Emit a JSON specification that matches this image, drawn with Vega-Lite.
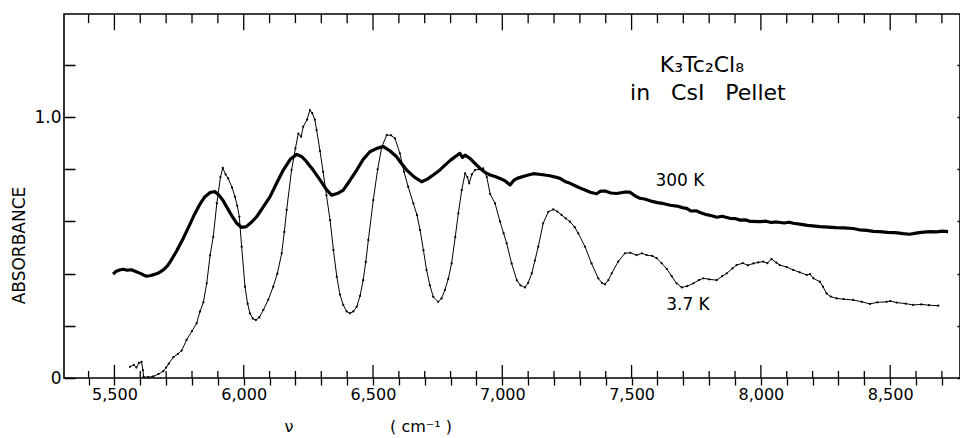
{
  "$schema": "https://vega.github.io/schema/vega-lite/v6.json",
  "width": 896,
  "height": 364,
  "autosize": {"type": "none"},
  "padding": {"left": 64, "top": 14, "right": 0, "bottom": 60},
  "background": "white",
  "config": {
    "font": "DejaVu Sans",
    "view": {"stroke": "black", "strokeWidth": 1.6},
    "axis": {"labelColor": "black", "titleColor": "black", "titleFontWeight": "normal"}
  },
  "resolve": {"axis": {"x": "independent"}},
  "datasets": {
    "spectra": [
      {"series": "300 K", "wavenumber": 5495, "absorbance": 0.398},
      {"series": "300 K", "wavenumber": 5505, "absorbance": 0.408},
      {"series": "300 K", "wavenumber": 5520, "absorbance": 0.414},
      {"series": "300 K", "wavenumber": 5534, "absorbance": 0.417},
      {"series": "300 K", "wavenumber": 5550, "absorbance": 0.413},
      {"series": "300 K", "wavenumber": 5565, "absorbance": 0.415},
      {"series": "300 K", "wavenumber": 5580, "absorbance": 0.409},
      {"series": "300 K", "wavenumber": 5600, "absorbance": 0.401},
      {"series": "300 K", "wavenumber": 5615, "absorbance": 0.394},
      {"series": "300 K", "wavenumber": 5625, "absorbance": 0.390},
      {"series": "300 K", "wavenumber": 5640, "absorbance": 0.393},
      {"series": "300 K", "wavenumber": 5655, "absorbance": 0.397},
      {"series": "300 K", "wavenumber": 5670, "absorbance": 0.402},
      {"series": "300 K", "wavenumber": 5689, "absorbance": 0.414},
      {"series": "300 K", "wavenumber": 5705, "absorbance": 0.430},
      {"series": "300 K", "wavenumber": 5720, "absorbance": 0.452},
      {"series": "300 K", "wavenumber": 5740, "absorbance": 0.486},
      {"series": "300 K", "wavenumber": 5766, "absorbance": 0.535},
      {"series": "300 K", "wavenumber": 5790, "absorbance": 0.585},
      {"series": "300 K", "wavenumber": 5810, "absorbance": 0.628},
      {"series": "300 K", "wavenumber": 5830, "absorbance": 0.665},
      {"series": "300 K", "wavenumber": 5850, "absorbance": 0.695},
      {"series": "300 K", "wavenumber": 5870, "absorbance": 0.711},
      {"series": "300 K", "wavenumber": 5889, "absorbance": 0.714},
      {"series": "300 K", "wavenumber": 5905, "absorbance": 0.700},
      {"series": "300 K", "wavenumber": 5920, "absorbance": 0.680},
      {"series": "300 K", "wavenumber": 5934, "absorbance": 0.656},
      {"series": "300 K", "wavenumber": 5955, "absorbance": 0.620},
      {"series": "300 K", "wavenumber": 5973, "absorbance": 0.593},
      {"series": "300 K", "wavenumber": 5992, "absorbance": 0.577},
      {"series": "300 K", "wavenumber": 6010, "absorbance": 0.580},
      {"series": "300 K", "wavenumber": 6030, "absorbance": 0.597},
      {"series": "300 K", "wavenumber": 6050, "absorbance": 0.618},
      {"series": "300 K", "wavenumber": 6075, "absorbance": 0.655},
      {"series": "300 K", "wavenumber": 6102, "absorbance": 0.695},
      {"series": "300 K", "wavenumber": 6128, "absorbance": 0.748},
      {"series": "300 K", "wavenumber": 6153, "absorbance": 0.797},
      {"series": "300 K", "wavenumber": 6180, "absorbance": 0.838},
      {"series": "300 K", "wavenumber": 6205, "absorbance": 0.857},
      {"series": "300 K", "wavenumber": 6225, "absorbance": 0.848},
      {"series": "300 K", "wavenumber": 6243, "absorbance": 0.829},
      {"series": "300 K", "wavenumber": 6270, "absorbance": 0.795},
      {"series": "300 K", "wavenumber": 6295, "absorbance": 0.759},
      {"series": "300 K", "wavenumber": 6320, "absorbance": 0.722},
      {"series": "300 K", "wavenumber": 6340, "absorbance": 0.701},
      {"series": "300 K", "wavenumber": 6362, "absorbance": 0.707},
      {"series": "300 K", "wavenumber": 6385, "absorbance": 0.720},
      {"series": "300 K", "wavenumber": 6410, "absorbance": 0.756},
      {"series": "300 K", "wavenumber": 6437, "absorbance": 0.797},
      {"series": "300 K", "wavenumber": 6462, "absorbance": 0.838},
      {"series": "300 K", "wavenumber": 6488, "absorbance": 0.867},
      {"series": "300 K", "wavenumber": 6515, "absorbance": 0.880},
      {"series": "300 K", "wavenumber": 6540, "absorbance": 0.887},
      {"series": "300 K", "wavenumber": 6565, "absorbance": 0.871},
      {"series": "300 K", "wavenumber": 6591, "absorbance": 0.848},
      {"series": "300 K", "wavenumber": 6610, "absorbance": 0.822},
      {"series": "300 K", "wavenumber": 6630, "absorbance": 0.797},
      {"series": "300 K", "wavenumber": 6660, "absorbance": 0.770},
      {"series": "300 K", "wavenumber": 6688, "absorbance": 0.752},
      {"series": "300 K", "wavenumber": 6710, "absorbance": 0.762},
      {"series": "300 K", "wavenumber": 6733, "absorbance": 0.778},
      {"series": "300 K", "wavenumber": 6755, "absorbance": 0.794},
      {"series": "300 K", "wavenumber": 6772, "absorbance": 0.810},
      {"series": "300 K", "wavenumber": 6800, "absorbance": 0.835},
      {"series": "300 K", "wavenumber": 6820, "absorbance": 0.850},
      {"series": "300 K", "wavenumber": 6836, "absorbance": 0.861},
      {"series": "300 K", "wavenumber": 6846, "absorbance": 0.845},
      {"series": "300 K", "wavenumber": 6856, "absorbance": 0.854},
      {"series": "300 K", "wavenumber": 6875, "absorbance": 0.842},
      {"series": "300 K", "wavenumber": 6895, "absorbance": 0.822},
      {"series": "300 K", "wavenumber": 6914, "absorbance": 0.803},
      {"series": "300 K", "wavenumber": 6935, "absorbance": 0.787},
      {"series": "300 K", "wavenumber": 6953, "absorbance": 0.778},
      {"series": "300 K", "wavenumber": 6972, "absorbance": 0.772},
      {"series": "300 K", "wavenumber": 6991, "absorbance": 0.765},
      {"series": "300 K", "wavenumber": 7010, "absorbance": 0.756},
      {"series": "300 K", "wavenumber": 7030, "absorbance": 0.740},
      {"series": "300 K", "wavenumber": 7045, "absorbance": 0.758},
      {"series": "300 K", "wavenumber": 7060, "absorbance": 0.766},
      {"series": "300 K", "wavenumber": 7090, "absorbance": 0.775},
      {"series": "300 K", "wavenumber": 7120, "absorbance": 0.783},
      {"series": "300 K", "wavenumber": 7150, "absorbance": 0.780},
      {"series": "300 K", "wavenumber": 7184, "absorbance": 0.775},
      {"series": "300 K", "wavenumber": 7205, "absorbance": 0.770},
      {"series": "300 K", "wavenumber": 7223, "absorbance": 0.765},
      {"series": "300 K", "wavenumber": 7245, "absorbance": 0.752},
      {"series": "300 K", "wavenumber": 7262, "absorbance": 0.746},
      {"series": "300 K", "wavenumber": 7290, "absorbance": 0.733},
      {"series": "300 K", "wavenumber": 7313, "absorbance": 0.723},
      {"series": "300 K", "wavenumber": 7340, "absorbance": 0.712},
      {"series": "300 K", "wavenumber": 7365, "absorbance": 0.706},
      {"series": "300 K", "wavenumber": 7380, "absorbance": 0.716},
      {"series": "300 K", "wavenumber": 7400, "absorbance": 0.716},
      {"series": "300 K", "wavenumber": 7420, "absorbance": 0.709},
      {"series": "300 K", "wavenumber": 7442, "absorbance": 0.707},
      {"series": "300 K", "wavenumber": 7470, "absorbance": 0.712},
      {"series": "300 K", "wavenumber": 7494, "absorbance": 0.712},
      {"series": "300 K", "wavenumber": 7515, "absorbance": 0.697},
      {"series": "300 K", "wavenumber": 7532, "absorbance": 0.689},
      {"series": "300 K", "wavenumber": 7550, "absorbance": 0.686},
      {"series": "300 K", "wavenumber": 7575, "absorbance": 0.678},
      {"series": "300 K", "wavenumber": 7600, "absorbance": 0.672},
      {"series": "300 K", "wavenumber": 7625, "absorbance": 0.668},
      {"series": "300 K", "wavenumber": 7650, "absorbance": 0.662},
      {"series": "300 K", "wavenumber": 7675, "absorbance": 0.659},
      {"series": "300 K", "wavenumber": 7700, "absorbance": 0.652},
      {"series": "300 K", "wavenumber": 7713, "absorbance": 0.650},
      {"series": "300 K", "wavenumber": 7730, "absorbance": 0.640},
      {"series": "300 K", "wavenumber": 7750, "absorbance": 0.641},
      {"series": "300 K", "wavenumber": 7770, "absorbance": 0.632},
      {"series": "300 K", "wavenumber": 7790, "absorbance": 0.626},
      {"series": "300 K", "wavenumber": 7810, "absorbance": 0.622},
      {"series": "300 K", "wavenumber": 7830, "absorbance": 0.616},
      {"series": "300 K", "wavenumber": 7850, "absorbance": 0.620},
      {"series": "300 K", "wavenumber": 7880, "absorbance": 0.612},
      {"series": "300 K", "wavenumber": 7900, "absorbance": 0.611},
      {"series": "300 K", "wavenumber": 7920, "absorbance": 0.605},
      {"series": "300 K", "wavenumber": 7940, "absorbance": 0.606},
      {"series": "300 K", "wavenumber": 7960, "absorbance": 0.600},
      {"series": "300 K", "wavenumber": 7996, "absorbance": 0.599},
      {"series": "300 K", "wavenumber": 8020, "absorbance": 0.601},
      {"series": "300 K", "wavenumber": 8040, "absorbance": 0.596},
      {"series": "300 K", "wavenumber": 8060, "absorbance": 0.598},
      {"series": "300 K", "wavenumber": 8090, "absorbance": 0.594},
      {"series": "300 K", "wavenumber": 8110, "absorbance": 0.597},
      {"series": "300 K", "wavenumber": 8125, "absorbance": 0.593},
      {"series": "300 K", "wavenumber": 8150, "absorbance": 0.590},
      {"series": "300 K", "wavenumber": 8180, "absorbance": 0.585},
      {"series": "300 K", "wavenumber": 8200, "absorbance": 0.583},
      {"series": "300 K", "wavenumber": 8228, "absorbance": 0.580},
      {"series": "300 K", "wavenumber": 8260, "absorbance": 0.578},
      {"series": "300 K", "wavenumber": 8290, "absorbance": 0.576},
      {"series": "300 K", "wavenumber": 8320, "absorbance": 0.575},
      {"series": "300 K", "wavenumber": 8357, "absorbance": 0.573},
      {"series": "300 K", "wavenumber": 8380, "absorbance": 0.568},
      {"series": "300 K", "wavenumber": 8410, "absorbance": 0.566},
      {"series": "300 K", "wavenumber": 8435, "absorbance": 0.562},
      {"series": "300 K", "wavenumber": 8460, "absorbance": 0.561},
      {"series": "300 K", "wavenumber": 8490, "absorbance": 0.558},
      {"series": "300 K", "wavenumber": 8520, "absorbance": 0.557},
      {"series": "300 K", "wavenumber": 8550, "absorbance": 0.553},
      {"series": "300 K", "wavenumber": 8576, "absorbance": 0.551},
      {"series": "300 K", "wavenumber": 8600, "absorbance": 0.555},
      {"series": "300 K", "wavenumber": 8620, "absorbance": 0.558},
      {"series": "300 K", "wavenumber": 8654, "absorbance": 0.561},
      {"series": "300 K", "wavenumber": 8680, "absorbance": 0.560},
      {"series": "300 K", "wavenumber": 8700, "absorbance": 0.563},
      {"series": "300 K", "wavenumber": 8724, "absorbance": 0.561},

      {"series": "3.7 K", "wavenumber": 5560, "absorbance": 0.043},
      {"series": "3.7 K", "wavenumber": 5575, "absorbance": 0.050},
      {"series": "3.7 K", "wavenumber": 5585, "absorbance": 0.040},
      {"series": "3.7 K", "wavenumber": 5595, "absorbance": 0.058},
      {"series": "3.7 K", "wavenumber": 5605, "absorbance": 0.062},
      {"series": "3.7 K", "wavenumber": 5610, "absorbance": 0.030},
      {"series": "3.7 K", "wavenumber": 5613, "absorbance": 0.004},
      {"series": "3.7 K", "wavenumber": 5630, "absorbance": 0.003},
      {"series": "3.7 K", "wavenumber": 5650, "absorbance": 0.006},
      {"series": "3.7 K", "wavenumber": 5670, "absorbance": 0.015},
      {"series": "3.7 K", "wavenumber": 5689, "absorbance": 0.026},
      {"series": "3.7 K", "wavenumber": 5700, "absorbance": 0.040},
      {"series": "3.7 K", "wavenumber": 5710, "absorbance": 0.055},
      {"series": "3.7 K", "wavenumber": 5728, "absorbance": 0.080},
      {"series": "3.7 K", "wavenumber": 5745, "absorbance": 0.092},
      {"series": "3.7 K", "wavenumber": 5760, "absorbance": 0.105},
      {"series": "3.7 K", "wavenumber": 5779, "absorbance": 0.146},
      {"series": "3.7 K", "wavenumber": 5800, "absorbance": 0.180},
      {"series": "3.7 K", "wavenumber": 5818, "absorbance": 0.210},
      {"series": "3.7 K", "wavenumber": 5831, "absorbance": 0.255},
      {"series": "3.7 K", "wavenumber": 5844, "absorbance": 0.290},
      {"series": "3.7 K", "wavenumber": 5857, "absorbance": 0.363},
      {"series": "3.7 K", "wavenumber": 5870, "absorbance": 0.470},
      {"series": "3.7 K", "wavenumber": 5882, "absorbance": 0.540},
      {"series": "3.7 K", "wavenumber": 5896, "absorbance": 0.669},
      {"series": "3.7 K", "wavenumber": 5910, "absorbance": 0.770},
      {"series": "3.7 K", "wavenumber": 5919, "absorbance": 0.805},
      {"series": "3.7 K", "wavenumber": 5930, "absorbance": 0.780},
      {"series": "3.7 K", "wavenumber": 5940, "absorbance": 0.765},
      {"series": "3.7 K", "wavenumber": 5955, "absorbance": 0.730},
      {"series": "3.7 K", "wavenumber": 5966, "absorbance": 0.695},
      {"series": "3.7 K", "wavenumber": 5975, "absorbance": 0.660},
      {"series": "3.7 K", "wavenumber": 5983, "absorbance": 0.618},
      {"series": "3.7 K", "wavenumber": 5992, "absorbance": 0.503},
      {"series": "3.7 K", "wavenumber": 6005, "absorbance": 0.350},
      {"series": "3.7 K", "wavenumber": 6015, "absorbance": 0.285},
      {"series": "3.7 K", "wavenumber": 6024, "absorbance": 0.248},
      {"series": "3.7 K", "wavenumber": 6035, "absorbance": 0.228},
      {"series": "3.7 K", "wavenumber": 6047, "absorbance": 0.222},
      {"series": "3.7 K", "wavenumber": 6060, "absorbance": 0.232},
      {"series": "3.7 K", "wavenumber": 6076, "absorbance": 0.261},
      {"series": "3.7 K", "wavenumber": 6095, "absorbance": 0.300},
      {"series": "3.7 K", "wavenumber": 6114, "absorbance": 0.350},
      {"series": "3.7 K", "wavenumber": 6130, "absorbance": 0.400},
      {"series": "3.7 K", "wavenumber": 6147, "absorbance": 0.478},
      {"series": "3.7 K", "wavenumber": 6157, "absorbance": 0.560},
      {"series": "3.7 K", "wavenumber": 6166, "absorbance": 0.644},
      {"series": "3.7 K", "wavenumber": 6185, "absorbance": 0.797},
      {"series": "3.7 K", "wavenumber": 6200, "absorbance": 0.880},
      {"series": "3.7 K", "wavenumber": 6211, "absorbance": 0.937},
      {"series": "3.7 K", "wavenumber": 6222, "absorbance": 0.925},
      {"series": "3.7 K", "wavenumber": 6230, "absorbance": 0.963},
      {"series": "3.7 K", "wavenumber": 6245, "absorbance": 0.990},
      {"series": "3.7 K", "wavenumber": 6256, "absorbance": 1.027},
      {"series": "3.7 K", "wavenumber": 6265, "absorbance": 1.015},
      {"series": "3.7 K", "wavenumber": 6275, "absorbance": 0.990},
      {"series": "3.7 K", "wavenumber": 6282, "absorbance": 0.950},
      {"series": "3.7 K", "wavenumber": 6295, "absorbance": 0.870},
      {"series": "3.7 K", "wavenumber": 6307, "absorbance": 0.790},
      {"series": "3.7 K", "wavenumber": 6320, "absorbance": 0.700},
      {"series": "3.7 K", "wavenumber": 6334, "absorbance": 0.605},
      {"series": "3.7 K", "wavenumber": 6347, "absorbance": 0.490},
      {"series": "3.7 K", "wavenumber": 6360, "absorbance": 0.388},
      {"series": "3.7 K", "wavenumber": 6372, "absorbance": 0.320},
      {"series": "3.7 K", "wavenumber": 6385, "absorbance": 0.280},
      {"series": "3.7 K", "wavenumber": 6398, "absorbance": 0.255},
      {"series": "3.7 K", "wavenumber": 6411, "absorbance": 0.248},
      {"series": "3.7 K", "wavenumber": 6424, "absorbance": 0.255},
      {"series": "3.7 K", "wavenumber": 6437, "absorbance": 0.273},
      {"series": "3.7 K", "wavenumber": 6450, "absorbance": 0.315},
      {"series": "3.7 K", "wavenumber": 6462, "absorbance": 0.375},
      {"series": "3.7 K", "wavenumber": 6472, "absorbance": 0.445},
      {"series": "3.7 K", "wavenumber": 6482, "absorbance": 0.529},
      {"series": "3.7 K", "wavenumber": 6501, "absorbance": 0.682},
      {"series": "3.7 K", "wavenumber": 6518, "absorbance": 0.800},
      {"series": "3.7 K", "wavenumber": 6534, "absorbance": 0.886},
      {"series": "3.7 K", "wavenumber": 6553, "absorbance": 0.931},
      {"series": "3.7 K", "wavenumber": 6570, "absorbance": 0.930},
      {"series": "3.7 K", "wavenumber": 6585, "absorbance": 0.918},
      {"series": "3.7 K", "wavenumber": 6604, "absorbance": 0.861},
      {"series": "3.7 K", "wavenumber": 6620, "absorbance": 0.790},
      {"series": "3.7 K", "wavenumber": 6636, "absorbance": 0.733},
      {"series": "3.7 K", "wavenumber": 6656, "absorbance": 0.669},
      {"series": "3.7 K", "wavenumber": 6670, "absorbance": 0.625},
      {"series": "3.7 K", "wavenumber": 6682, "absorbance": 0.567},
      {"series": "3.7 K", "wavenumber": 6695, "absorbance": 0.490},
      {"series": "3.7 K", "wavenumber": 6707, "absorbance": 0.414},
      {"series": "3.7 K", "wavenumber": 6720, "absorbance": 0.355},
      {"series": "3.7 K", "wavenumber": 6733, "absorbance": 0.311},
      {"series": "3.7 K", "wavenumber": 6752, "absorbance": 0.292},
      {"series": "3.7 K", "wavenumber": 6765, "absorbance": 0.305},
      {"series": "3.7 K", "wavenumber": 6778, "absorbance": 0.337},
      {"series": "3.7 K", "wavenumber": 6791, "absorbance": 0.380},
      {"series": "3.7 K", "wavenumber": 6804, "absorbance": 0.439},
      {"series": "3.7 K", "wavenumber": 6818, "absorbance": 0.540},
      {"series": "3.7 K", "wavenumber": 6830, "absorbance": 0.631},
      {"series": "3.7 K", "wavenumber": 6843, "absorbance": 0.720},
      {"series": "3.7 K", "wavenumber": 6856, "absorbance": 0.784},
      {"series": "3.7 K", "wavenumber": 6865, "absorbance": 0.770},
      {"series": "3.7 K", "wavenumber": 6872, "absorbance": 0.746},
      {"series": "3.7 K", "wavenumber": 6882, "absorbance": 0.780},
      {"series": "3.7 K", "wavenumber": 6894, "absorbance": 0.797},
      {"series": "3.7 K", "wavenumber": 6910, "absorbance": 0.800},
      {"series": "3.7 K", "wavenumber": 6926, "absorbance": 0.803},
      {"series": "3.7 K", "wavenumber": 6940, "absorbance": 0.770},
      {"series": "3.7 K", "wavenumber": 6953, "absorbance": 0.705},
      {"series": "3.7 K", "wavenumber": 6972, "absorbance": 0.669},
      {"series": "3.7 K", "wavenumber": 6991, "absorbance": 0.600},
      {"series": "3.7 K", "wavenumber": 7005, "absorbance": 0.555},
      {"series": "3.7 K", "wavenumber": 7017, "absorbance": 0.516},
      {"series": "3.7 K", "wavenumber": 7036, "absorbance": 0.439},
      {"series": "3.7 K", "wavenumber": 7056, "absorbance": 0.375},
      {"series": "3.7 K", "wavenumber": 7070, "absorbance": 0.355},
      {"series": "3.7 K", "wavenumber": 7088, "absorbance": 0.347},
      {"series": "3.7 K", "wavenumber": 7100, "absorbance": 0.365},
      {"series": "3.7 K", "wavenumber": 7114, "absorbance": 0.401},
      {"series": "3.7 K", "wavenumber": 7126, "absorbance": 0.450},
      {"series": "3.7 K", "wavenumber": 7139, "absorbance": 0.503},
      {"series": "3.7 K", "wavenumber": 7158, "absorbance": 0.593},
      {"series": "3.7 K", "wavenumber": 7178, "absorbance": 0.637},
      {"series": "3.7 K", "wavenumber": 7197, "absorbance": 0.646},
      {"series": "3.7 K", "wavenumber": 7213, "absorbance": 0.638},
      {"series": "3.7 K", "wavenumber": 7229, "absorbance": 0.625},
      {"series": "3.7 K", "wavenumber": 7245, "absorbance": 0.612},
      {"series": "3.7 K", "wavenumber": 7262, "absorbance": 0.599},
      {"series": "3.7 K", "wavenumber": 7280, "absorbance": 0.578},
      {"series": "3.7 K", "wavenumber": 7294, "absorbance": 0.554},
      {"series": "3.7 K", "wavenumber": 7320, "absorbance": 0.503},
      {"series": "3.7 K", "wavenumber": 7345, "absorbance": 0.439},
      {"series": "3.7 K", "wavenumber": 7371, "absorbance": 0.382},
      {"series": "3.7 K", "wavenumber": 7385, "absorbance": 0.365},
      {"series": "3.7 K", "wavenumber": 7397, "absorbance": 0.359},
      {"series": "3.7 K", "wavenumber": 7410, "absorbance": 0.375},
      {"series": "3.7 K", "wavenumber": 7423, "absorbance": 0.401},
      {"series": "3.7 K", "wavenumber": 7448, "absorbance": 0.446},
      {"series": "3.7 K", "wavenumber": 7474, "absorbance": 0.478},
      {"series": "3.7 K", "wavenumber": 7495, "absorbance": 0.480},
      {"series": "3.7 K", "wavenumber": 7519, "absorbance": 0.471},
      {"series": "3.7 K", "wavenumber": 7540, "absorbance": 0.478},
      {"series": "3.7 K", "wavenumber": 7558, "absorbance": 0.471},
      {"series": "3.7 K", "wavenumber": 7580, "absorbance": 0.468},
      {"series": "3.7 K", "wavenumber": 7597, "absorbance": 0.459},
      {"series": "3.7 K", "wavenumber": 7616, "absorbance": 0.440},
      {"series": "3.7 K", "wavenumber": 7636, "absorbance": 0.418},
      {"series": "3.7 K", "wavenumber": 7655, "absorbance": 0.390},
      {"series": "3.7 K", "wavenumber": 7674, "absorbance": 0.363},
      {"series": "3.7 K", "wavenumber": 7694, "absorbance": 0.347},
      {"series": "3.7 K", "wavenumber": 7715, "absorbance": 0.352},
      {"series": "3.7 K", "wavenumber": 7739, "absorbance": 0.363},
      {"series": "3.7 K", "wavenumber": 7760, "absorbance": 0.375},
      {"series": "3.7 K", "wavenumber": 7777, "absorbance": 0.382},
      {"series": "3.7 K", "wavenumber": 7800, "absorbance": 0.378},
      {"series": "3.7 K", "wavenumber": 7829, "absorbance": 0.375},
      {"series": "3.7 K", "wavenumber": 7850, "absorbance": 0.390},
      {"series": "3.7 K", "wavenumber": 7868, "absorbance": 0.401},
      {"series": "3.7 K", "wavenumber": 7890, "absorbance": 0.420},
      {"series": "3.7 K", "wavenumber": 7906, "absorbance": 0.433},
      {"series": "3.7 K", "wavenumber": 7930, "absorbance": 0.440},
      {"series": "3.7 K", "wavenumber": 7950, "absorbance": 0.432},
      {"series": "3.7 K", "wavenumber": 7971, "absorbance": 0.439},
      {"series": "3.7 K", "wavenumber": 7990, "absorbance": 0.443},
      {"series": "3.7 K", "wavenumber": 8009, "absorbance": 0.446},
      {"series": "3.7 K", "wavenumber": 8025, "absorbance": 0.440},
      {"series": "3.7 K", "wavenumber": 8041, "absorbance": 0.456},
      {"series": "3.7 K", "wavenumber": 8060, "absorbance": 0.442},
      {"series": "3.7 K", "wavenumber": 8073, "absorbance": 0.433},
      {"series": "3.7 K", "wavenumber": 8100, "absorbance": 0.425},
      {"series": "3.7 K", "wavenumber": 8125, "absorbance": 0.414},
      {"series": "3.7 K", "wavenumber": 8150, "absorbance": 0.405},
      {"series": "3.7 K", "wavenumber": 8177, "absorbance": 0.395},
      {"series": "3.7 K", "wavenumber": 8190, "absorbance": 0.398},
      {"series": "3.7 K", "wavenumber": 8203, "absorbance": 0.382},
      {"series": "3.7 K", "wavenumber": 8228, "absorbance": 0.369},
      {"series": "3.7 K", "wavenumber": 8240, "absorbance": 0.350},
      {"series": "3.7 K", "wavenumber": 8254, "absorbance": 0.324},
      {"series": "3.7 K", "wavenumber": 8270, "absorbance": 0.312},
      {"series": "3.7 K", "wavenumber": 8293, "absorbance": 0.305},
      {"series": "3.7 K", "wavenumber": 8320, "absorbance": 0.302},
      {"series": "3.7 K", "wavenumber": 8357, "absorbance": 0.299},
      {"series": "3.7 K", "wavenumber": 8390, "absorbance": 0.292},
      {"series": "3.7 K", "wavenumber": 8422, "absorbance": 0.284},
      {"series": "3.7 K", "wavenumber": 8450, "absorbance": 0.290},
      {"series": "3.7 K", "wavenumber": 8486, "absorbance": 0.292},
      {"series": "3.7 K", "wavenumber": 8500, "absorbance": 0.295},
      {"series": "3.7 K", "wavenumber": 8525, "absorbance": 0.289},
      {"series": "3.7 K", "wavenumber": 8560, "absorbance": 0.285},
      {"series": "3.7 K", "wavenumber": 8589, "absorbance": 0.280},
      {"series": "3.7 K", "wavenumber": 8620, "absorbance": 0.282},
      {"series": "3.7 K", "wavenumber": 8650, "absorbance": 0.279},
      {"series": "3.7 K", "wavenumber": 8686, "absorbance": 0.277}
    ],
    "ticks": [
      {"wavenumber": 5400, "kind": "minor"},
      {"wavenumber": 5500, "kind": "major"},
      {"wavenumber": 5600, "kind": "minor"},
      {"wavenumber": 5700, "kind": "minor"},
      {"wavenumber": 5800, "kind": "minor"},
      {"wavenumber": 5900, "kind": "minor"},
      {"wavenumber": 6000, "kind": "major"},
      {"wavenumber": 6100, "kind": "minor"},
      {"wavenumber": 6200, "kind": "minor"},
      {"wavenumber": 6300, "kind": "minor"},
      {"wavenumber": 6400, "kind": "minor"},
      {"wavenumber": 6500, "kind": "major"},
      {"wavenumber": 6600, "kind": "minor"},
      {"wavenumber": 6700, "kind": "minor"},
      {"wavenumber": 6800, "kind": "minor"},
      {"wavenumber": 6900, "kind": "minor"},
      {"wavenumber": 7000, "kind": "major"},
      {"wavenumber": 7100, "kind": "minor"},
      {"wavenumber": 7200, "kind": "minor"},
      {"wavenumber": 7300, "kind": "minor"},
      {"wavenumber": 7400, "kind": "minor"},
      {"wavenumber": 7500, "kind": "major"},
      {"wavenumber": 7600, "kind": "minor"},
      {"wavenumber": 7700, "kind": "minor"},
      {"wavenumber": 7800, "kind": "minor"},
      {"wavenumber": 7900, "kind": "minor"},
      {"wavenumber": 8000, "kind": "major"},
      {"wavenumber": 8100, "kind": "minor"},
      {"wavenumber": 8200, "kind": "minor"},
      {"wavenumber": 8300, "kind": "minor"},
      {"wavenumber": 8400, "kind": "minor"},
      {"wavenumber": 8500, "kind": "major"},
      {"wavenumber": 8600, "kind": "minor"},
      {"wavenumber": 8700, "kind": "minor"}
    ],
    "sample": [
      {"label": "K₃Tc₂Cl₈", "wavenumber": 7772, "absorbance": 1.199},
      {"label": "in\u00a0\u00a0\u00a0CsI\u00a0\u00a0\u00a0Pellet", "wavenumber": 7795, "absorbance": 1.092}
    ],
    "curveLabels": [
      {"label": "300 K", "wavenumber": 7687, "absorbance": 0.755},
      {"label": "3.7 K", "wavenumber": 7718, "absorbance": 0.280}
    ]
  },
  "layer": [
    {
      "data": {"name": "spectra"},
      "transform": [{"filter": "datum.series === '300 K'"}],
      "mark": {"type": "line", "color": "black", "strokeWidth": 3.2, "strokeJoin": "round"},
      "encoding": {
        "x": {
          "field": "wavenumber", "type": "quantitative",
          "scale": {"domain": [5305, 8770], "nice": false, "zero": false},
          "axis": {
            "orient": "bottom",
            "title": "ν\u00a0\u00a0\u00a0\u00a0\u00a0\u00a0\u00a0\u00a0\u00a0\u00a0\u00a0\u00a0\u00a0\u00a0\u00a0\u00a0\u00a0\u00a0\u00a0(\u00a0cm⁻¹\u00a0)",
            "values": [5500, 6000, 6500, 7000, 7500, 8000, 8500],
            "format": ",d",
            "labelOverlap": false, "labelFlush": false,
            "domain": false,
            "ticks": true, "tickSize": 7, "tickColor": "black", "tickWidth": 1.3,
            "grid": false,
            "labelFontSize": 16, "labelPadding": 1,
            "titleFontSize": 16, "titleAnchor": "start", "titleAlign": "left", "titleX": 220, "titleY": 53, "titleBaseline": "alphabetic"
          }
        },
        "y": {
          "field": "absorbance", "type": "quantitative",
          "scale": {"domain": [0, 1.395], "nice": false},
          "axis": {
            "title": "ABSORBANCE",
            "values": [0, 0.2, 0.4, 0.6, 0.8, 1, 1.2],
            "labelExpr": "datum.value === 0 ? '0' : (datum.value === 1 ? '1.0' : '')",
            "labelOverlap": false, "labelFlush": false,
            "domain": false, "ticks": false,
            "grid": true, "gridColor": "black", "gridOpacity": 1, "gridWidth": 1.3,
            "gridDash": [11, 882, 3, 1000],
            "labelFontSize": 17, "labelPadding": 3,
            "titleFontSize": 17, "titleX": -45, "titleY": 231, "titleAngle": -90, "titleAlign": "center", "titleBaseline": "middle"
          }
        }
      }
    },
    {
      "data": {"name": "spectra"},
      "transform": [{"filter": "datum.series === '3.7 K'"}],
      "mark": {"type": "line", "color": "black", "strokeWidth": 1, "point": {"filled": true, "size": 5, "color": "black"}},
      "encoding": {
        "x": {
          "field": "wavenumber", "type": "quantitative",
          "axis": {
            "orient": "bottom",
            "title": null,
            "values": [5400, 5600, 5700, 5800, 5900, 6100, 6200, 6300, 6400, 6600, 6700, 6800, 6900, 7100, 7200, 7300, 7400, 7600, 7700, 7800, 7900, 8100, 8200, 8300, 8400, 8600, 8700],
            "labels": false,
            "domain": false,
            "ticks": true, "tickSize": 7, "tickColor": "black", "tickWidth": 1.3,
            "grid": false
          }
        },
        "y": {"field": "absorbance", "type": "quantitative"}
      }
    },
    {
      "data": {"name": "ticks"},
      "transform": [{"filter": "datum.kind === 'major'"}],
      "mark": {"type": "rule", "color": "black", "strokeWidth": 1.3},
      "encoding": {
        "x": {"field": "wavenumber", "type": "quantitative", "axis": null},
        "y": {"datum": 0, "type": "quantitative"},
        "y2": {"datum": 0.05}
      }
    },
    {
      "data": {"name": "ticks"},
      "transform": [{"filter": "datum.kind === 'major'"}],
      "mark": {"type": "rule", "color": "black", "strokeWidth": 1.3},
      "encoding": {
        "x": {"field": "wavenumber", "type": "quantitative", "axis": null},
        "y": {"datum": 1.395, "type": "quantitative"},
        "y2": {"datum": 1.333}
      }
    },
    {
      "data": {"name": "ticks"},
      "transform": [{"filter": "datum.kind === 'minor'"}],
      "mark": {"type": "rule", "color": "black", "strokeWidth": 1.3},
      "encoding": {
        "x": {"field": "wavenumber", "type": "quantitative", "axis": null},
        "y": {"datum": 0, "type": "quantitative"},
        "y2": {"datum": 0.027}
      }
    },
    {
      "data": {"name": "ticks"},
      "transform": [{"filter": "datum.kind === 'minor'"}],
      "mark": {"type": "rule", "color": "black", "strokeWidth": 1.3},
      "encoding": {
        "x": {"field": "wavenumber", "type": "quantitative", "axis": null},
        "y": {"datum": 1.395, "type": "quantitative"},
        "y2": {"datum": 1.36}
      }
    },
    {
      "data": {"name": "sample"},
      "mark": {"type": "text", "fontSize": 22, "align": "center", "baseline": "middle", "color": "black"},
      "encoding": {
        "x": {"field": "wavenumber", "type": "quantitative", "axis": null},
        "y": {"field": "absorbance", "type": "quantitative"},
        "text": {"field": "label"}
      }
    },
    {
      "data": {"name": "curveLabels"},
      "mark": {"type": "text", "fontSize": 17, "align": "center", "baseline": "middle", "color": "black"},
      "encoding": {
        "x": {"field": "wavenumber", "type": "quantitative", "axis": null},
        "y": {"field": "absorbance", "type": "quantitative"},
        "text": {"field": "label"}
      }
    }
  ]
}
